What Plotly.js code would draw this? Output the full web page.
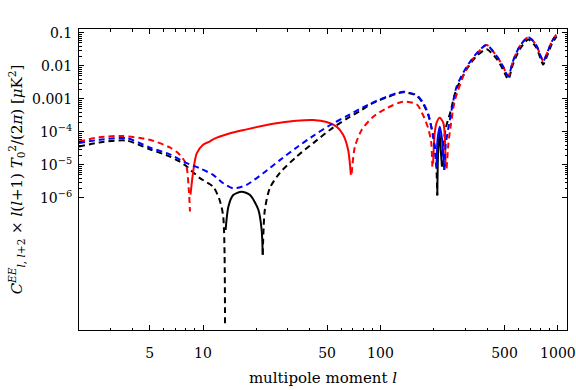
<!DOCTYPE html>
<html>
<head>
<meta charset="utf-8">
<script src="https://cdn.plot.ly/plotly-3.0.1.min.js"></script>
<style>
  html, body { margin: 0; padding: 0; background: #fff; }
  #chart { width: 576px; height: 390px; }
</style>
</head>
<body>
<div id="chart"></div>
<script>
// multipole l and |C| values, one pair per segment (solid = positive, dashed = negative)
const lBlack1 = [2, 2.6, 3.7, 5, 6.5, 7.4, 7.9, 9.6, 11.4, 12.4, 13.0, 13.3];
const cBlack1 = [3.6e-5, 4.8e-5, 5.5e-5, 3.0e-5, 1.8e-5, 1.26e-5, 1.0e-5, 4.0e-6, 2.2e-6, 8.7e-7, 2.7e-7, 1.6e-10];
const lBlack2 = [13.4, 13.9, 14.8, 16.5, 18.4, 20.5, 21.4, 21.7];
const cBlack2 = [1.07e-7, 5.5e-7, 1.23e-6, 1.55e-6, 1.23e-6, 4.4e-7, 1.07e-7, 1.9e-8];
const lBlack3 = [21.7, 22.3, 23.8, 27.1, 33.7, 41.8, 51.8, 64.4, 76.5, 91, 108, 134, 160, 174, 186, 198, 205, 209];
const cBlack3 = [1.9e-8, 4.4e-7, 2.0e-6, 5.8e-6, 1.8e-5, 4.6e-5, 1.15e-4, 2.5e-4, 4.3e-4, 7.6e-4, 1.1e-3, 1.6e-3, 1.26e-3, 7.2e-4, 3.2e-4, 7.9e-5, 2.0e-5, 1.2e-6];
const lBlack4 = [209, 211, 215, 219, 222];
const cBlack4 = [1.2e-6, 2.0e-5, 1.0e-4, 2.5e-5, 9.0e-6];
const lBlack5 = [222, 226, 233, 241, 246, 268, 306, 348, 396, 453, 490, 525, 557, 610, 680, 751, 801, 826, 877, 925, 983];
const cBlack5 = [9.0e-6, 4.0e-5, 1.26e-4, 2.5e-4, 3.5e-4, 2.0e-3, 7.9e-3, 0.02, 0.032, 0.016, 7.9e-3, 3.9e-3, 0.011, 0.032, 0.063, 0.038, 0.016, 0.011, 0.023, 0.047, 0.079];

const lRed1 = [2, 2.6, 3.5, 5, 6.5, 7.3, 8.0, 8.33, 8.44];
const cRed1 = [5.1e-5, 6.9e-5, 7.6e-5, 5.8e-5, 3.4e-5, 2.2e-5, 1.1e-5, 1.55e-6, 3.9e-7];
const lRed2 = [8.5, 8.8, 9.2, 10.0, 10.8, 11.4, 14.2, 17.6, 21.8, 27.1, 33.7, 41.8, 49.7, 56.6, 61.7, 65.8, 68.1];
const cRed2 = [1.26e-6, 6.3e-6, 2.2e-5, 4.1e-5, 5.0e-5, 6.0e-5, 9.1e-5, 1.2e-4, 1.55e-4, 1.9e-4, 2.2e-4, 2.3e-4, 2.0e-4, 1.45e-4, 8.1e-5, 2.8e-5, 5.0e-6];
const lRed3 = [68.8, 71.8, 78.3, 91, 108, 134, 160, 174, 186, 193, 196];
const cRed3 = [5.6e-6, 3.6e-5, 1.15e-4, 2.9e-4, 5.2e-4, 8.3e-4, 6.9e-4, 3.2e-4, 1.26e-4, 5.0e-5, 8.9e-6];
const lRed4 = [198, 202, 207, 216, 226, 230, 233];
const cRed4 = [1.1e-5, 9.0e-5, 1.9e-4, 2.7e-4, 1.9e-4, 9.0e-5, 8.9e-6];
const lRed5 = [236, 241, 246, 263, 306, 348, 396, 453, 490, 525, 557, 610, 680, 751, 801, 826, 877, 925, 983];
const cRed5 = [7.9e-6, 4.0e-5, 1.0e-4, 9.3e-4, 8.5e-3, 0.023, 0.043, 0.0195, 9.8e-3, 4.9e-3, 0.0138, 0.04, 0.074, 0.045, 0.0195, 0.0138, 0.028, 0.056, 0.093];

const lBlue1 = [2, 2.6, 3.7, 5, 6.5, 7.9, 9.6, 11.4, 13.0, 14.8, 17.6, 21.8, 27.1, 33.7, 41.8, 51.8, 64.4, 76.5, 91, 108, 134, 160, 174, 186, 198, 207];
const cBlue1 = [4.6e-5, 5.8e-5, 6.5e-5, 3.4e-5, 2.1e-5, 1.2e-5, 7.9e-6, 5.0e-6, 2.8e-6, 1.95e-6, 2.5e-6, 5.6e-6, 1.4e-5, 3.4e-5, 7.6e-5, 1.6e-4, 3.0e-4, 5.0e-4, 7.9e-4, 1.17e-3, 1.66e-3, 1.3e-3, 7.6e-4, 3.5e-4, 7.2e-5, 8.9e-6];
const lBlue2 = [207, 210, 216, 222, 229];
const cBlue2 = [8.9e-6, 6.3e-5, 1.45e-4, 6.3e-5, 7.1e-6];
const lBlue3 = [229, 233, 241, 246, 268, 306, 348, 396, 453, 490, 525, 557, 610, 680, 751, 801, 826, 877, 925, 983];
const cBlue3 = [7.1e-6, 4.0e-5, 1.26e-4, 2.3e-4, 2.3e-3, 9.5e-3, 0.024, 0.043, 0.0195, 9.8e-3, 4.9e-3, 0.0138, 0.04, 0.074, 0.045, 0.0195, 0.0138, 0.028, 0.056, 0.093];

const xTickVals = [5, 10, 50, 100, 500, 1000];
const xTickText = ['5', '10', '50', '100', '500', '1000'];
const xMinorVals = [3, 4, 6, 7, 8, 9, 20, 30, 40, 60, 70, 80, 90, 200, 300, 400, 600, 700, 800, 900];
const yTickVals = [0.1, 0.01, 0.001, 1e-4, 1e-5, 1e-6];
const yTickText = ['0.1', '0.01', '0.001', '10<sup>\u22124</sup>', '10<sup>\u22125</sup>', '10<sup>\u22126</sup>'];

const yMinorVals = [];
[1e-6, 1e-5, 1e-4, 1e-3, 1e-2].forEach(d => {
    for (let k = 2; k <= 9; k++) yMinorVals.push(k * d);
});

const serif = 'DejaVu Serif';
const dashed = '6px,4px';

function seg(x, y, color, dash) {
    return {
        x: x, y: y,
        type: 'scatter',
        mode: 'lines',
        line: { color: color, width: 2, dash: dash, shape: 'spline', smoothing: 0.7 },
        hoverinfo: 'skip',
        showlegend: false
    };
}

const traces = [
    seg(lBlack1, cBlack1, '#000', dashed),
    seg(lBlack2, cBlack2, '#000', 'solid'),
    seg(lBlack3, cBlack3, '#000', dashed),
    seg(lBlack4, cBlack4, '#000', 'solid'),
    seg(lBlack5, cBlack5, '#000', dashed),
    seg(lRed1, cRed1, '#ff0000', dashed),
    seg(lRed2, cRed2, '#ff0000', 'solid'),
    seg(lRed3, cRed3, '#ff0000', dashed),
    seg(lRed4, cRed4, '#ff0000', 'solid'),
    seg(lRed5, cRed5, '#ff0000', dashed),
    seg(lBlue1, cBlue1, '#0000ff', dashed),
    seg(lBlue2, cBlue2, '#0000ff', 'solid'),
    seg(lBlue3, cBlue3, '#0000ff', dashed)
];

const layout = {
    width: 576,
    height: 390,
    margin: { l: 79, r: 9, t: 29, b: 60 },
    plot_bgcolor: '#fff',
    paper_bgcolor: '#fff',
    font: { family: serif, size: 14, color: '#000' },
    xaxis: {
        type: 'log',
        range: [Math.log10(2), Math.log10(1125)],
        tickmode: 'array',
        tickvals: xTickVals,
        ticktext: xTickText,
        ticks: 'inside',
        ticklen: 5,
        tickcolor: '#000',
        ticklabelstandoff: 10,
        minor: { tickvals: xMinorVals, ticks: 'inside', ticklen: 2.5, tickcolor: '#000', showgrid: false },
        showline: true,
        linecolor: '#000',
        linewidth: 1,
        mirror: 'ticks',
        showgrid: false,
        zeroline: false,
        tickfont: { family: serif, size: 14 },
        title: { text: 'multipole moment <i>l</i>', font: { family: serif, size: 15 }, standoff: 12 }
    },
    yaxis: {
        type: 'log',
        range: [-10, -0.88],
        tickmode: 'array',
        tickvals: yTickVals,
        ticktext: yTickText,
        ticks: 'inside',
        ticklen: 5,
        tickcolor: '#000',
        ticklabelstandoff: 3,
        minor: { tickvals: yMinorVals, ticks: 'inside', ticklen: 2.5, tickcolor: '#000', showgrid: false },
        showline: true,
        linecolor: '#000',
        linewidth: 1,
        mirror: 'ticks',
        showgrid: false,
        zeroline: false,
        tickfont: { family: serif, size: 14 },
        title: {
            text: '<i>C</i><sup><i>EE</i></sup><sub><i>l</i>, <i>l</i>+2</sub> \u00d7 <i>l</i>(<i>l</i>+1) <i>T</i><sub>0</sub><sup>2</sup>/(2<i>\u03c0</i>) [<i>\u03bc</i>K<sup>2</sup>]',
            font: { family: serif, size: 15 },
            standoff: 5
        }
    }
};

Plotly.newPlot('chart', traces, layout, { displayModeBar: false, staticPlot: true });
</script>
</body>
</html>
